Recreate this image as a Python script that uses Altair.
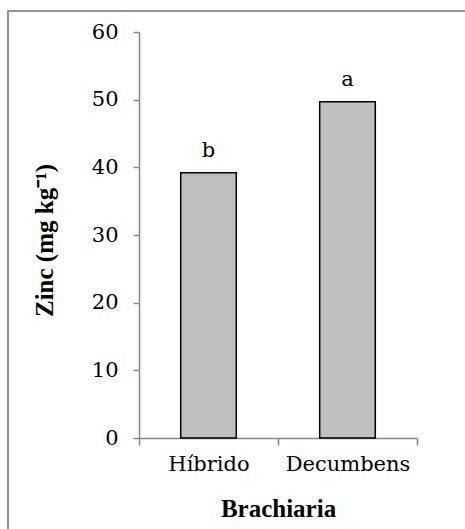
import altair as alt
import pandas as pd

categories = ["Híbrido", "Decumbens"]
zinc = [39.2, 49.7]
letters = ["b", "a"]

df = pd.DataFrame({"Brachiaria": categories, "Zinc": zinc, "letra": letters})

FONT_B = "Liberation Serif"
FONT = "DejaVu Serif"
AXIS_GRAY = "#868686"
FS = 21
FSB = 25

x_enc = alt.X(
    "Brachiaria:N",
    sort=categories,
    scale=alt.Scale(paddingInner=0, paddingOuter=0),
    axis=alt.Axis(
        title="Brachiaria",
        titleFont=FONT_B, titleFontSize=FSB, titleFontWeight="bold", titleColor="black",
        titleBaseline="middle", titleY=70,
        labelFont=FONT, labelFontSize=FS, labelColor="black", labelAngle=0,
        labelPadding=8,
        tickBand="extent", tickSize=7, tickColor=AXIS_GRAY, tickWidth=1.5,
        domainColor=AXIS_GRAY, domainWidth=1.5,
        grid=False,
    ),
)

y_enc = alt.Y(
    "Zinc:Q",
    scale=alt.Scale(domain=[0, 60], nice=False),
    axis=alt.Axis(
        title="Zinc (mg kg⁻¹)",
        values=[0, 10, 20, 30, 40, 50, 60],
        titleFont=FONT_B, titleFontSize=FSB, titleFontWeight="bold", titleColor="black",
        titleBaseline="middle", titleAlign="center", titleAngle=270,
        titleX=-95, titleY=208,
        labelFont=FONT, labelFontSize=FS, labelColor="black",
        labelPadding=15,
        tickSize=6, tickColor=AXIS_GRAY, tickWidth=1.5,
        domainColor=AXIS_GRAY, domainWidth=1.5,
        grid=False,
    ),
)

bars = alt.Chart(df).mark_bar(
    width=alt.RelativeBandSize(0.4), color="#bfbfbf", stroke="black", strokeWidth=1.5
).encode(x=x_enc, y=y_enc)

text = alt.Chart(df).mark_text(
    font=FONT, fontSize=FS, color="black", baseline="bottom", dy=-12
).encode(x=alt.X("Brachiaria:N", sort=categories), y="Zinc:Q", text="letra:N")

frame = alt.Chart(df).mark_rect(
    fill=None, stroke="#8c8c8c", strokeWidth=1.5
).encode(
    x=alt.value(-131), y=alt.value(-21), x2=alt.value(345), y2=alt.value(510)
)

chart = alt.layer(frame, bars, text).properties(
    width=278, height=406,
    padding={"left": 139, "top": 32, "right": 48, "bottom": 91},
    autosize=alt.AutoSizeParams(type="none"),
).configure_view(stroke=None)

chart.save("out.html", embed_options={"renderer": "svg", "actions": False})
